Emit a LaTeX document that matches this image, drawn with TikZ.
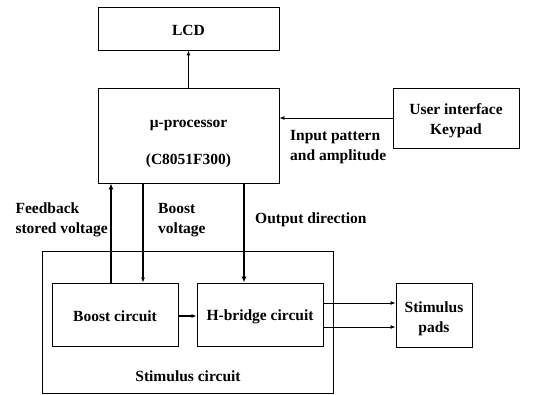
\documentclass[tikz,border=0pt]{standalone}
\usepackage{fontspec}
\setmainfont{Liberation Serif}
\usetikzlibrary{arrows.meta}
\begin{document}
\begin{tikzpicture}[x=1pt,y=-1pt,
  every node/.style={font=\bfseries\fontsize{15.5}{20}\selectfont},
  box/.style={draw, line width=0.8pt, inner sep=0pt, align=center},
  lbl/.style={inner sep=0pt, align=left},
  flow/.style={-{Latex[length=5pt,width=4pt]}, line width=0.9pt},
  heavy/.style={-{Latex[length=6pt,width=5pt]}, line width=1.6pt},
  medium/.style={-{Latex[length=5pt,width=4pt]}, line width=1.2pt}]
\useasboundingbox (0,0) rectangle (556,395);

% blocks (the zero-width rules lower the text a little inside its box)
\node[box, minimum width=181pt, minimum height=43pt] (lcd) at (188.5,28.5)
  {\rule{0pt}{15pt}LCD};
\node[box, minimum width=181pt, minimum height=95pt] (proc) at (188.5,135.5)
  {\rule{0pt}{24pt}μ-processor\\[17pt](C8051F300)};
\node[box, minimum width=126pt, minimum height=60pt] (ui) at (456,118)
  {\rule{0pt}{17pt}User interface\\Keypad};
\node[box, minimum width=291pt, minimum height=142pt] (stim) at (187.5,322) {};
\node[inner sep=0pt] (stimlbl) at (188,376) {Stimulus circuit};
\node[box, minimum width=126pt, minimum height=63pt] (boost) at (115,314.5)
  {\rule{0pt}{15pt}Boost circuit};
\node[box, minimum width=126pt, minimum height=63pt] (hb) at (260,314.5)
  {\rule{0pt}{15pt}H-bridge circuit};
\node[box, minimum width=76pt, minimum height=64pt] (pads) at (434,315)
  {\rule{0pt}{18pt}Stimulus\\pads};

% vertical tracks between processor and the stimulus blocks
\coordinate (fbx) at (111,0);
\coordinate (bvx) at (143,0);
\coordinate (odx) at (244,0);
\coordinate (hbtop) at (0,303);
\coordinate (hbbot) at (0,327);

% connectors
\draw[medium] (proc.north) -- (lcd.south);
\draw[flow] (ui.west) -- (proc.east |- ui.west);
\draw[heavy] (boost.north -| fbx) -- (proc.south -| fbx);
\draw[medium] (proc.south -| bvx) -- (boost.north -| bvx);
\draw[heavy] (proc.south -| odx) -- (hb.north -| odx);
\draw[medium] (boost.east |- 0,316) -- (hb.west |- 0,316);
\draw[flow] (hb.east |- hbtop) -- (pads.west |- hbtop);
\draw[flow] (hb.east |- hbbot) -- (pads.west |- hbbot);

% connector labels
\node[lbl, anchor=east, align=left] (fblbl) at (108,220) {Feedback\\stored voltage};
\node[lbl, anchor=west] (bvlbl) at (158,220) {Boost\\voltage};
\node[lbl, anchor=west] (odlbl) at (255,220) {Output direction};
\node[lbl, anchor=west] (inlbl) at (290,147) {Input pattern\\and amplitude};
\end{tikzpicture}
\end{document}
